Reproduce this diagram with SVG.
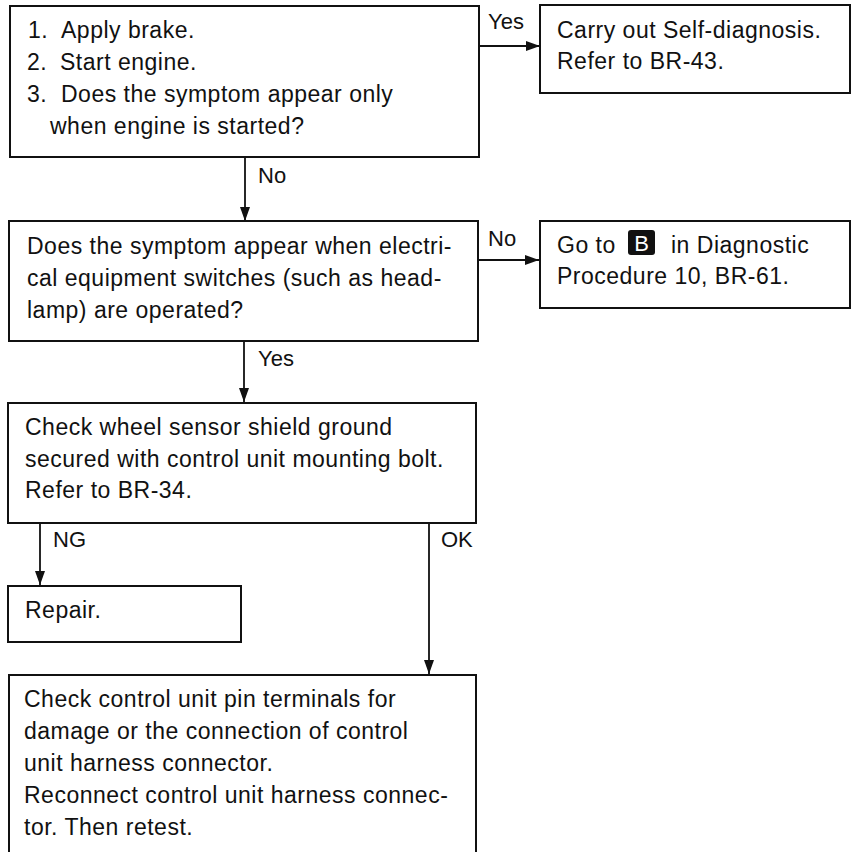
<svg xmlns="http://www.w3.org/2000/svg" width="851" height="852" viewBox="0 0 851 852">
<defs>
<marker id="ah" viewBox="0 0 14 10" refX="14" refY="5" markerWidth="14" markerHeight="10" markerUnits="userSpaceOnUse" orient="auto">
<path d="M0,0 L14,5 L0,10 Z" fill="#111"/>
</marker>
<style>
.box{fill:#fff;stroke:#111;stroke-width:2}
.t{font-family:"Liberation Sans",Arial,Helvetica,sans-serif;font-size:23px;fill:#111;letter-spacing:0.5px}
.lbl{font-family:"Liberation Sans",Arial,Helvetica,sans-serif;font-size:22px;fill:#111}
.c{fill:none;stroke:#111;stroke-width:1.8;marker-end:url(#ah)}
</style>
</defs>
<rect width="851" height="852" fill="#fff"/>
<g id="connectors">
<path class="c" d="M479,46 H540"/>
<path class="c" d="M245,157 V221"/>
<path class="c" d="M478,260 H539"/>
<path class="c" d="M244,341 V402"/>
<path class="c" d="M40,523 V585"/>
<path class="c" d="M429,523 V674"/>
<text class="lbl" x="488" y="29">Yes</text>
<text class="lbl" x="258" y="183">No</text>
<text class="lbl" x="488" y="246">No</text>
<text class="lbl" x="258" y="366">Yes</text>
<text class="lbl" x="53" y="547">NG</text>
<text class="lbl" x="441" y="547">OK</text>
</g>
<g id="n1">
<rect class="box" x="10" y="6" width="469" height="151"/>
<text class="t" x="28" y="38">1.</text><text class="t" x="61" y="38">Apply brake.</text>
<text class="t" x="27" y="70">2.</text><text class="t" x="60" y="70">Start engine.</text>
<text class="t" x="27" y="102">3.</text><text class="t" x="61" y="102">Does the symptom appear only</text>
<text class="t" x="50" y="134">when engine is started?</text>
</g>
<g id="n2">
<rect class="box" x="540" y="5" width="310" height="88"/>
<text class="t" x="557" y="38">Carry out Self-diagnosis.</text>
<text class="t" x="557" y="69">Refer to BR-43.</text>
</g>
<g id="n3">
<rect class="box" x="9" y="221" width="469" height="120"/>
<text class="t" x="27" y="254">Does the symptom appear when electri-</text>
<text class="t" x="27" y="286">cal equipment switches (such as head-</text>
<text class="t" x="27" y="318">lamp) are operated?</text>
</g>
<g id="n4">
<rect class="box" x="540" y="221" width="310" height="87"/>
<text class="t" x="557" y="253">Go to</text>
<rect x="628" y="230" width="27" height="25" rx="3" fill="#111"/>
<text x="641.5" y="251" text-anchor="middle" style="font-family:'Liberation Sans',Arial,sans-serif;font-size:22px;fill:#fff">B</text>
<text class="t" x="671" y="253">in Diagnostic</text>
<text class="t" x="557" y="284">Procedure 10, BR-61.</text>
</g>
<g id="n5">
<rect class="box" x="8" y="403" width="468" height="120"/>
<text class="t" x="25" y="435">Check wheel sensor shield ground</text>
<text class="t" x="25" y="467">secured with control unit mounting bolt.</text>
<text class="t" x="25" y="498">Refer to BR-34.</text>
</g>
<g id="n6">
<rect class="box" x="8" y="586" width="233" height="56"/>
<text class="t" x="25" y="618">Repair.</text>
</g>
<g id="n7">
<rect class="box" x="9" y="675" width="467" height="200"/>
<text class="t" x="24" y="707">Check control unit pin terminals for</text>
<text class="t" x="24" y="739">damage or the connection of control</text>
<text class="t" x="24" y="771">unit harness connector.</text>
<text class="t" x="24" y="803">Reconnect control unit harness connec-</text>
<text class="t" x="24" y="835">tor. Then retest.</text>
</g>
</svg>
